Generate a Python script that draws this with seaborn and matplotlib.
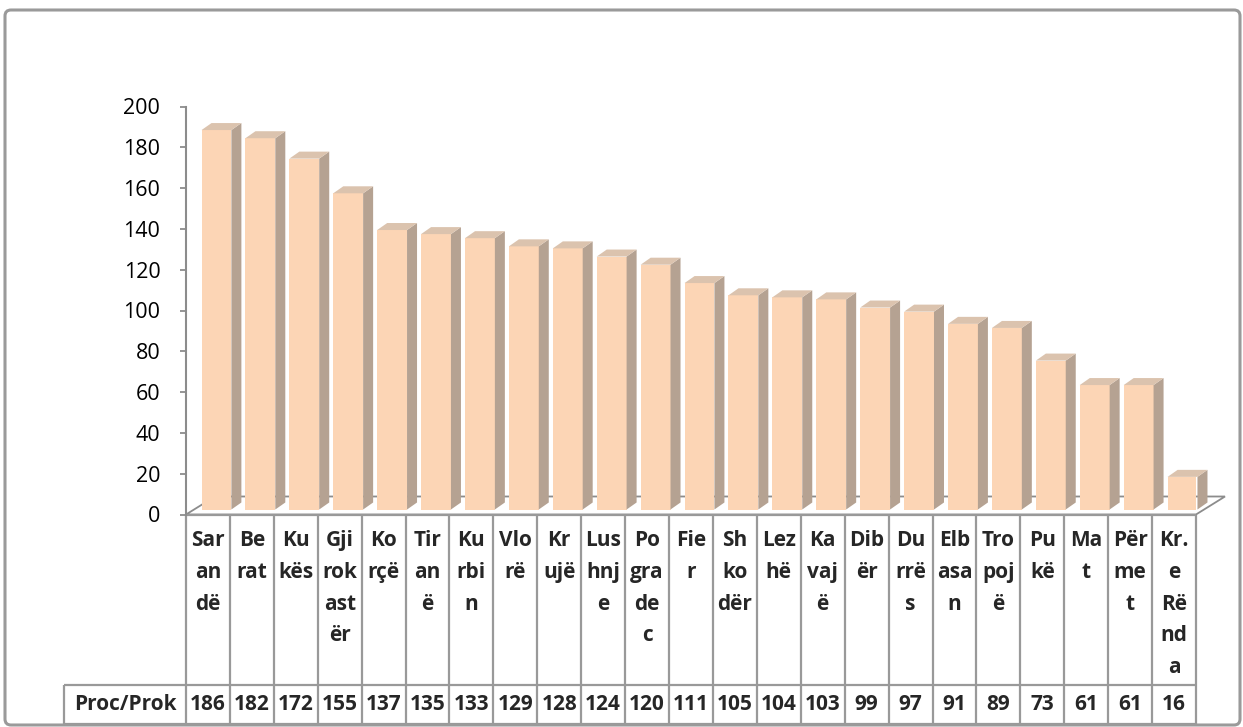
import matplotlib
matplotlib.use('Agg')
import matplotlib.pyplot as plt
import matplotlib.transforms as mtransforms
from matplotlib.patches import Polygon, FancyBboxPatch
import pandas as pd
import seaborn as sns

# Rrethet (etiketat e ndara si ne tabelen origjinale) dhe vlerat
labels = ['Sar\nan\ndë', 'Be\nrat', 'Ku\nkës', 'Gji\nrok\nast\nër', 'Ko\nrçë',
          'Tir\nan\në', 'Ku\nrbi\nn', 'Vlo\nrë', 'Kr\nujë', 'Lus\nhnj\ne',
          'Po\ngra\nde\nc', 'Fie\nr', 'Sh\nko\ndër', 'Lez\nhë', 'Ka\nvaj\në',
          'Dib\nër', 'Du\nrrë\ns', 'Elb\nasa\nn', 'Tro\npoj\në', 'Pu\nkë',
          'Ma\nt', 'Për\nme\nt', 'Kr.\ne\nRë\nnd\na']
values = [186, 182, 172, 155, 137, 135, 133, 129, 128, 124, 120, 111,
          105, 104, 103, 99, 97, 91, 89, 73, 61, 61, 16]
row_name = 'Proc/Prok'
y_ticks = [0, 20, 40, 60, 80, 100, 120, 140, 160, 180, 200]

FRONT = '#FCD5B5'
SIDE = '#B5A292'
TOP = '#DBC3AE'
GRAY = '#8C8C8C'
LINE = '#999999'

sns.set_theme(style='white')
plt.rcParams['font.family'] = ['Open Sans', 'DejaVu Sans']

W, H = 1243, 727
fig = plt.figure(figsize=(W / 100, H / 100), dpi=100)

# pozicioni i boshteve ne piksela
ax_l, ax_r, ax_b, ax_t = 186, 1196, 514.5, 106.5
ax = fig.add_axes([ax_l / W, (H - ax_b) / H, (ax_r - ax_l) / W, (ax_b - ax_t) / H])

df = pd.DataFrame({'rrethi': labels, 'vlera': values})
sns.barplot(data=df, x='rrethi', y='vlera', color=FRONT, saturation=1,
            width=0.68, errorbar=None, ax=ax, zorder=3)
n = len(values)
ax.set_xlim(-0.5, n - 0.5)
ax.set_ylim(0, 200)

xpx = (ax_r - ax_l) / n
ypx = (ax_b - ax_t) / 200

# dyshemeja (efekti 3D)
fdx, fdy = 29 / xpx, 18 / ypx
floor = Polygon([(-0.5, 0), (n - 0.5, 0), (n - 0.5 + fdx, fdy), (-0.5 + fdx, fdy)],
                closed=True, facecolor='white', edgecolor=GRAY, lw=1.3,
                zorder=1, clip_on=False)

# kolonat me ane dhe kapak
shift = mtransforms.offset_copy(ax.transData, fig=fig, x=8.5, y=5, units='dots')
ddx, ddy = 10 / xpx, 7 / ypx
for p in list(ax.patches):
    p.set_transform(shift)
    p.set_edgecolor('none')
    x0, w, h = p.get_x(), p.get_width(), p.get_height()
    ax.add_patch(Polygon([(x0 + w, 0), (x0 + w + ddx, ddy), (x0 + w + ddx, h + ddy), (x0 + w, h)],
                         closed=True, facecolor=SIDE, edgecolor='none',
                         transform=shift, zorder=3, clip_on=False))
    ax.add_patch(Polygon([(x0, h), (x0 + w, h), (x0 + w + ddx, h + ddy), (x0 + ddx, h + ddy)],
                         closed=True, facecolor=TOP, edgecolor='none',
                         transform=shift, zorder=3, clip_on=False))
ax.add_patch(floor)

for s in ['top', 'right', 'bottom']:
    ax.spines[s].set_visible(False)
ax.spines['left'].set_color(GRAY)
ax.spines['left'].set_linewidth(1.5)
ax.set_yticks(y_ticks)
ax.tick_params(axis='y', left=True, length=4.5, width=1.3, color=GRAY,
               pad=14, labelsize=15.5, labelcolor='black')
ax.tick_params(axis='x', bottom=False, length=0, pad=11, labelsize=15)
for t in ax.get_xticklabels():
    t.set_fontweight('bold')
    t.set_linespacing(1.68)
ax.set_xlabel('')
ax.set_ylabel('')

# tabela e te dhenave (vija te vizatuara ne koordinata x te te dhenave)
def ay(py):
    return (ax_b - py) / (ax_b - ax_t)

tb = mtransforms.blended_transform_factory(ax.transData, ax.transAxes)
row_top, row_bot = 685, 724
lab_left = -0.5 - (ax_l - 64) / xpx
kw = dict(color=LINE, lw=1.6, transform=tb, clip_on=False, solid_capstyle='butt')
ax.plot([-0.5, n - 0.5], [ay(ax_b), ay(ax_b)], **kw)
ax.plot([lab_left, n - 0.5], [ay(row_top), ay(row_top)], **kw)
ax.plot([lab_left, n - 0.5], [ay(row_bot), ay(row_bot)], **kw)
ax.plot([lab_left, lab_left], [ay(row_top), ay(row_bot)], **kw)
for k in range(n + 1):
    ax.plot([k - 0.5, k - 0.5], [ay(ax_b), ay(row_bot)], **kw)

ymid = ay((row_top + row_bot) / 2)
ax.text((lab_left - 0.5) / 2, ymid, row_name, transform=tb, ha='center', va='center',
        fontsize=15, fontweight='bold', clip_on=False)
for i, v in enumerate(values):
    ax.text(i, ymid, str(v), transform=tb, ha='center', va='center',
            fontsize=15, fontweight='bold', clip_on=False)

# korniza e jashtme
px = mtransforms.Affine2D().scale(1 / W, 1 / H) + fig.transFigure
fig.patches.append(FancyBboxPatch((5, 2), 1235, 715, boxstyle='round,pad=0,rounding_size=6',
                                  facecolor='none', edgecolor='#9A9A9A', lw=2.2,
                                  transform=px))

fig.savefig('out.png', dpi=100)
